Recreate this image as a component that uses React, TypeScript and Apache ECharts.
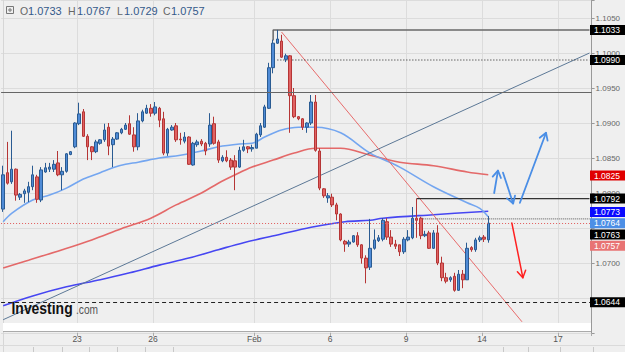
import React, { useEffect, useRef } from 'react';
import * as echarts from 'echarts';

const SLOT_COUNT = 140;
const tickSlots = [18, 36, 60, 78, 96, 114, 132];
const tickLabels = ['23', '26', 'Feb', '6', '9', '14', '17'];

// 4h candles: [open, high, low, close]
const candles: number[][] = [
  [1.0777, 1.0839, 1.0773, 1.0826], [1.0829, 1.0873, 1.0812, 1.0814], [1.0816, 1.0889, 1.0813, 1.0834],
  [1.0834, 1.0835, 1.0789, 1.0797], [1.0794, 1.0800, 1.0790, 1.0798], [1.0799, 1.0806, 1.0786, 1.0803],
  [1.0801, 1.0816, 1.0787, 1.0809], [1.0809, 1.0839, 1.0804, 1.0826], [1.0823, 1.0826, 1.0786, 1.0791],
  [1.0790, 1.0837, 1.0787, 1.0833], [1.0830, 1.0843, 1.0829, 1.0836], [1.0834, 1.0843, 1.0830, 1.0837],
  [1.0834, 1.0847, 1.0830, 1.0841], [1.0843, 1.0860, 1.0824, 1.0826], [1.0826, 1.0837, 1.0804, 1.0831],
  [1.0831, 1.0857, 1.0829, 1.0856], [1.0855, 1.0860, 1.0854, 1.0859], [1.0866, 1.0901, 1.0864, 1.0900],
  [1.0899, 1.0929, 1.0897, 1.0913], [1.0916, 1.0920, 1.0880, 1.0881], [1.0881, 1.0884, 1.0847, 1.0866],
  [1.0866, 1.0867, 1.0847, 1.0859], [1.0859, 1.0876, 1.0857, 1.0873], [1.0871, 1.0877, 1.0869, 1.0876],
  [1.0876, 1.0899, 1.0873, 1.0890], [1.0894, 1.0900, 1.0854, 1.0867], [1.0869, 1.0880, 1.0837, 1.0877],
  [1.0877, 1.0887, 1.0876, 1.0886], [1.0886, 1.0893, 1.0884, 1.0891], [1.0891, 1.0900, 1.0890, 1.0897],
  [1.0899, 1.0911, 1.0883, 1.0884], [1.0883, 1.0894, 1.0859, 1.0866], [1.0866, 1.0914, 1.0861, 1.0903],
  [1.0903, 1.0919, 1.0901, 1.0916], [1.0914, 1.0926, 1.0913, 1.0921], [1.0921, 1.0927, 1.0909, 1.0914],
  [1.0914, 1.0930, 1.0911, 1.0923], [1.0921, 1.0923, 1.0894, 1.0904], [1.0906, 1.0916, 1.0854, 1.0857],
  [1.0857, 1.0893, 1.0853, 1.0891], [1.0890, 1.0897, 1.0889, 1.0894], [1.0896, 1.0900, 1.0873, 1.0876],
  [1.0877, 1.0886, 1.0869, 1.0876], [1.0874, 1.0887, 1.0871, 1.0880], [1.0880, 1.0881, 1.0840, 1.0841],
  [1.0840, 1.0873, 1.0839, 1.0871], [1.0869, 1.0876, 1.0866, 1.0873], [1.0874, 1.0877, 1.0867, 1.0870],
  [1.0871, 1.0873, 1.0854, 1.0860], [1.0870, 1.0914, 1.0866, 1.0897], [1.0899, 1.0909, 1.0869, 1.0871],
  [1.0873, 1.0876, 1.0843, 1.0847], [1.0846, 1.0854, 1.0844, 1.0851], [1.0851, 1.0861, 1.0844, 1.0846],
  [1.0847, 1.0850, 1.0833, 1.0837], [1.0846, 1.0854, 1.0804, 1.0837], [1.0837, 1.0866, 1.0836, 1.0861],
  [1.0861, 1.0876, 1.0859, 1.0866], [1.0866, 1.0867, 1.0857, 1.0863], [1.0863, 1.0869, 1.0859, 1.0865],
  [1.0864, 1.0886, 1.0864, 1.0884], [1.0883, 1.0900, 1.0880, 1.0896], [1.0894, 1.0926, 1.0893, 1.0923],
  [1.0921, 1.0986, 1.0920, 1.0979], [1.0979, 1.1019, 1.0971, 1.1014], [1.1014, 1.1033, 1.1013, 1.1020],
  [1.1017, 1.1026, 1.0993, 1.0994], [1.0991, 1.0999, 1.0987, 1.0996], [1.0996, 1.0997, 1.0886, 1.0939],
  [1.0939, 1.0950, 1.0907, 1.0909], [1.0909, 1.0910, 1.0904, 1.0906], [1.0906, 1.0907, 1.0890, 1.0894],
  [1.0894, 1.0901, 1.0886, 1.0900], [1.0900, 1.0940, 1.0897, 1.0930], [1.0930, 1.0940, 1.0859, 1.0861],
  [1.0860, 1.0864, 1.0804, 1.0807], [1.0806, 1.0807, 1.0793, 1.0796], [1.0793, 1.0800, 1.0786, 1.0796],
  [1.0794, 1.0799, 1.0780, 1.0783], [1.0783, 1.0786, 1.0761, 1.0770], [1.0770, 1.0771, 1.0731, 1.0733],
  [1.0731, 1.0733, 1.0716, 1.0727], [1.0727, 1.0733, 1.0723, 1.0730], [1.0730, 1.0740, 1.0729, 1.0739],
  [1.0739, 1.0744, 1.0723, 1.0726], [1.0726, 1.0727, 1.0699, 1.0707], [1.0707, 1.0711, 1.0671, 1.0693],
  [1.0694, 1.0763, 1.0690, 1.0721], [1.0721, 1.0748, 1.0719, 1.0733], [1.0732, 1.0740, 1.0730, 1.0736],
  [1.0734, 1.0764, 1.0731, 1.0761], [1.0759, 1.0764, 1.0733, 1.0737], [1.0737, 1.0747, 1.0723, 1.0727],
  [1.0727, 1.0733, 1.0720, 1.0724], [1.0726, 1.0726, 1.0710, 1.0716], [1.0716, 1.0737, 1.0713, 1.0734],
  [1.0733, 1.0747, 1.0731, 1.0737], [1.0736, 1.0780, 1.0734, 1.0764], [1.0764, 1.0792, 1.0736, 1.0761],
  [1.0764, 1.0766, 1.0734, 1.0739], [1.0739, 1.0746, 1.0737, 1.0741], [1.0743, 1.0746, 1.0720, 1.0721],
  [1.0721, 1.0747, 1.0720, 1.0743], [1.0743, 1.0754, 1.0697, 1.0700], [1.0700, 1.0709, 1.0674, 1.0679],
  [1.0679, 1.0686, 1.0671, 1.0674], [1.0676, 1.0681, 1.0673, 1.0679], [1.0681, 1.0686, 1.0659, 1.0661],
  [1.0661, 1.0690, 1.0660, 1.0684], [1.0684, 1.0690, 1.0664, 1.0676], [1.0676, 1.0729, 1.0676, 1.0721],
  [1.0722, 1.0724, 1.0716, 1.0719], [1.0719, 1.0736, 1.0716, 1.0733], [1.0733, 1.0739, 1.0730, 1.0736],
  [1.0737, 1.0740, 1.0730, 1.0734], [1.0733, 1.0767, 1.0729, 1.0757],
];

// moving averages (slot index, value)
const maFastIdx = [0, 2, 7, 11, 15, 19, 23, 26, 29, 32, 37, 42, 47, 51, 56, 59, 62, 66, 70, 74, 80, 87, 94, 102, 110, 113, 115];
const maFastVal = [1.0759, 1.0771, 1.0790, 1.0797, 1.0807, 1.0820, 1.0829, 1.0836, 1.0841, 1.0844, 1.0850, 1.0854, 1.0860, 1.0866, 1.0870, 1.0871, 1.0880, 1.0890, 1.0894, 1.0894, 1.0886, 1.0857, 1.0837, 1.0809, 1.0786, 1.0778, 1.0766];
const maMidIdx = [0, 6, 14, 21, 28, 35, 41, 47, 51, 55, 59, 64, 69, 74, 80, 87, 94, 102, 110, 115];
const maMidVal = [1.0693, 1.0704, 1.0719, 1.0733, 1.0749, 1.0764, 1.0783, 1.0800, 1.0814, 1.0826, 1.0837, 1.0847, 1.0857, 1.0864, 1.0864, 1.0854, 1.0844, 1.0839, 1.0830, 1.0826];
const maSlowIdx = [0, 7, 15, 23, 30, 37, 44, 51, 57, 65, 73, 81, 87, 90, 102, 115];
const maSlowVal = [1.0639, 1.0653, 1.0666, 1.0676, 1.0686, 1.0697, 1.0707, 1.0719, 1.0729, 1.0740, 1.0751, 1.0759, 1.0761, 1.0764, 1.0769, 1.0774];

// drawings (slot index, price)
const trendGray = [[0, 1.0619], [139, 1.1000]];
const trendRed = [[66, 1.1030], [123, 1.0616]];
const highBracket = [[64, 1.1018], [64, 1.1033], [139, 1.1033]];
const dottedHigh = [[65, 1.0990], [139, 1.0990]];
const resistLine = [[98, 1.0792], [139, 1.0792]];
const dottedRes = [[99, 1.0763], [139, 1.0763]];
const fullLevel = 1.0944;
const supportLevel = 1.0644;
const lastPrice = 1.0757;

const labelValues = [1.1033, 1.0990, 1.0825, 1.0792, 1.0773, 1.0764, 1.0763, 1.0757, 1.0644];
const labelColors = ['#000000', '#000000', '#e00000', '#000000', '#0a0aff', '#4d8fe6', '#000000', '#e87373', '#000000'];
// axis ticks fully hidden behind the price boxes in the reference
const hiddenTicks = ['1.0750', '1.0650'];

const blueArrows = [
  [[116.4, 1.0800], [117.3, 1.0832]],
  [[118.5, 1.0829], [120.9, 1.0785]],
  [[122.5, 1.0786], [128.7, 1.0886]],
];
const redArrows = [[[120.6, 1.0757], [123.2, 1.0679]]];

const FONT = 'Liberation Sans, Arial, sans-serif';

export default function App() {
  const ref = useRef<HTMLDivElement>(null);

  useEffect(() => {
    const el = ref.current!;
    const chart = echarts.init(el, null, { renderer: 'svg', width: 625, height: 352 });

    const categories = Array.from({ length: SLOT_COUNT }, (_, i) => 's' + i);
    const tickFn = (index: number) => tickSlots.indexOf(index) >= 0;
    const zip = (a: number[], b: number[]) => a.map((x, i) => [x, b[i]]);
    const candleData = candles.map(([o, h, l, c]) => [o, c, l, h]);

    const option: any = {
      animation: false,
      backgroundColor: '#efefef',
      grid: { left: 1.08, right: 33.4, top: 0.5, bottom: 19, containLabel: false, outerBoundsMode: 'none' },
      xAxis: {
        type: 'category',
        data: categories,
        boundaryGap: true,
        axisLine: { show: false },
        axisTick: { show: true, interval: tickFn, length: 3, lineStyle: { color: '#aaaaaa' } },
        axisLabel: {
          interval: tickFn,
          formatter: (v: string) => {
            const k = tickSlots.indexOf(parseInt(v.slice(1), 10));
            return k >= 0 ? tickLabels[k] : '';
          },
          fontSize: 8.5,
          color: '#555555',
          margin: 1,
          fontFamily: FONT,
          padding: [0, 4, 0, 0],
        },
        splitLine: { show: true, interval: tickFn, lineStyle: { color: '#dcdcdc', width: 1 } },
      },
      yAxis: {
        type: 'value',
        position: 'right',
        min: 1.06,
        max: 1.1075,
        interval: 0.005,
        axisLine: { show: true, lineStyle: { color: '#999999' } },
        axisTick: { show: true, length: 3, lineStyle: { color: '#999999' } },
        axisLabel: {
          formatter: (v: number) => {
            const k = Math.round(v / 0.005);
            if (Math.abs(v - k * 0.005) > 1e-6 || v < 1.0625) return '';
            const s = v.toFixed(4);
            return hiddenTicks.indexOf(s) >= 0 ? '' : s;
          },
          fontSize: 8,
          color: '#666666',
          margin: 4,
          fontFamily: FONT,
        },
        splitLine: { show: true, lineStyle: { color: '#dcdcdc', width: 1 } },
      },
      series: [
        {
          type: 'line', data: zip(maSlowIdx, maSlowVal), smooth: 0.35, symbol: 'none', silent: true,
          lineStyle: { color: '#4646f2', width: 1.6 }, z: 2,
        },
        {
          type: 'line', data: zip(maMidIdx, maMidVal), smooth: 0.35, symbol: 'none', silent: true,
          lineStyle: { color: '#e25a5a', width: 1.6, opacity: 0.9 }, z: 2,
        },
        {
          type: 'line', data: zip(maFastIdx, maFastVal), smooth: 0.35, symbol: 'none', silent: true,
          lineStyle: { color: '#74a6f0', width: 1.6 }, z: 2,
        },
        { type: 'line', data: trendGray, symbol: 'none', silent: true, lineStyle: { color: '#5c7896', width: 1 }, z: 2 },
        { type: 'line', data: trendRed, symbol: 'none', silent: true, lineStyle: { color: '#e86b6b', width: 1 }, z: 2 },
        { type: 'line', data: highBracket, symbol: 'none', silent: true, lineStyle: { color: '#6a6a6a', width: 1.5 }, z: 2 },
        { type: 'line', data: dottedHigh, symbol: 'none', silent: true, lineStyle: { color: '#222222', width: 1, type: [1, 2] }, z: 2 },
        { type: 'line', data: resistLine, symbol: 'none', silent: true, lineStyle: { color: '#333333', width: 1.2 }, z: 2 },
        { type: 'line', data: dottedRes, symbol: 'none', silent: true, lineStyle: { color: '#555555', width: 1, type: [1, 1] }, z: 2 },
        {
          type: 'candlestick',
          data: candleData,
          barWidth: 3,
          silent: true,
          itemStyle: {
            color: '#4f8bd6', color0: '#e06262',
            borderColor: '#2a5b92', borderColor0: '#b53535', borderWidth: 1,
          },
          markLine: {
            silent: true,
            precision: 4,
            symbol: ['none', 'none'],
            label: { show: false },
            data: [
              { yAxis: fullLevel, lineStyle: { color: '#666666', width: 1.2, type: 'solid' } },
              { yAxis: supportLevel, lineStyle: { color: '#222222', width: 1, type: [4, 3] } },
              { yAxis: lastPrice, lineStyle: { color: '#e05a5a', width: 1, type: [1, 2] } },
            ],
          },
          z: 3,
        },
      ],
    };

    chart.setOption(option);

    const p0 = chart.convertToPixel({ gridIndex: 0 }, [0, 1.08]) as number[];
    const p1 = chart.convertToPixel({ gridIndex: 0 }, [1, 1.08]) as number[];
    const step = p1[0] - p0[0];
    const toPx = (i: number, v: number) => [
      p0[0] + i * step,
      chart.convertToPixel({ yAxisIndex: 0 }, v) as number,
    ];

    const graphics: any[] = [];

    // white strip under plot + axis line
    graphics.push({ type: 'rect', shape: { x: 3, y: 323, width: 588, height: 8 }, style: { fill: '#ffffff' }, z: 100 });
    graphics.push({ type: 'line', shape: { x1: 3, y1: 331.5, x2: 591, y2: 331.5 }, style: { stroke: '#aaaaaa', lineWidth: 1 }, z: 101 });
    graphics.push({ type: 'line', shape: { x1: 3.5, y1: 0, x2: 3.5, y2: 352 }, style: { stroke: '#d6d6d6', lineWidth: 1 }, z: 1 });
    graphics.push({ type: 'line', shape: { x1: 0, y1: 345.5, x2: 625, y2: 345.5 }, style: { stroke: '#dadada', lineWidth: 1 }, z: 101 });
    [33, 62, 89, 117, 145, 173, 503, 528, 560, 593].forEach((x) => {
      graphics.push({ type: 'line', shape: { x1: x + 0.5, y1: 347, x2: x + 0.5, y2: 352 }, style: { stroke: '#c8c8c8', lineWidth: 1 }, z: 101 });
    });

    // arrows
    const arrow = (pts: number[][], color: string, w: number) => {
      const a = toPx(pts[0][0], pts[0][1]);
      const b = toPx(pts[1][0], pts[1][1]);
      const ang = Math.atan2(b[1] - a[1], b[0] - a[0]);
      const L = 8, sp = 0.55;
      const h1 = [b[0] - L * Math.cos(ang - sp), b[1] - L * Math.sin(ang - sp)];
      const h2 = [b[0] - L * Math.cos(ang + sp), b[1] - L * Math.sin(ang + sp)];
      graphics.push({ type: 'polyline', shape: { points: [a, b] }, style: { stroke: color, lineWidth: w, fill: null, lineCap: 'round' }, z: 60 });
      graphics.push({ type: 'polyline', shape: { points: [h1, b, h2] }, style: { stroke: color, lineWidth: w, fill: null, lineCap: 'round', lineJoin: 'round' }, z: 60 });
    };
    blueArrows.forEach((p) => arrow(p, '#4a8ee6', 1.8));
    redArrows.forEach((p) => arrow(p, '#ff2020', 1.5));

    // price labels on the right axis, pushed apart when they overlap
    let prevY = -100;
    labelValues.forEach((v, i) => {
      let y = chart.convertToPixel({ yAxisIndex: 0 }, v) as number;
      if (y < prevY + 11.3) y = prevY + 11.3;
      prevY = y;
      graphics.push({ type: 'rect', shape: { x: 590, y: y - 5, width: 35, height: 10 }, style: { fill: labelColors[i] }, z: 110 });
      graphics.push({
        type: 'text', x: 594, y, z: 111,
        style: { text: v.toFixed(4), fill: '#ffffff', fontSize: 8.5, fontFamily: FONT, verticalAlign: 'middle', align: 'left' },
      });
    });

    // OHLC legend
    const last = candles[candles.length - 1];
    const legendItems = [
      { k: 'O', v: last[0], x: 20, vx: 28 },
      { k: 'H', v: last[1], x: 68, vx: 77 },
      { k: 'L', v: last[2], x: 117, vx: 124 },
      { k: 'C', v: last[3], x: 163, vx: 171 },
    ];
    graphics.push({ type: 'rect', shape: { x: 6.5, y: 6.5, width: 7, height: 7 }, style: { fill: 'none', stroke: '#777777', lineWidth: 1 }, z: 120 });
    graphics.push({ type: 'line', shape: { x1: 8, y1: 10, x2: 12, y2: 10 }, style: { stroke: '#777777', lineWidth: 1 }, z: 120 });
    graphics.push({ type: 'line', shape: { x1: 10, y1: 8, x2: 10, y2: 12 }, style: { stroke: '#777777', lineWidth: 1 }, z: 120 });
    legendItems.forEach((it) => {
      graphics.push({ type: 'text', x: it.x, y: 10.5, z: 120, style: { text: it.k, fill: '#666666', fontSize: 10.5, fontFamily: FONT, verticalAlign: 'middle' } });
      graphics.push({ type: 'text', x: it.vx, y: 10.5, z: 120, style: { text: it.v.toFixed(4), fill: '#34598a', fontSize: 11, fontFamily: FONT, verticalAlign: 'middle' } });
    });

    // logo
    graphics.push({
      type: 'text', x: 11.5, y: 308, scaleX: 0.82, z: 120,
      style: { text: 'Investing', fill: '#111111', fontSize: 17, fontWeight: 'bold', fontFamily: FONT, verticalAlign: 'middle' },
    });
    graphics.push({
      type: 'text', x: 76, y: 310, scaleX: 0.85, z: 120,
      style: { text: '.com', fill: '#555555', fontSize: 12, fontFamily: FONT, verticalAlign: 'middle' },
    });

    chart.setOption({ graphic: graphics });

    return () => chart.dispose();
  }, []);

  return <div ref={ref} style={{ position: 'absolute', left: 0, top: 0, width: 625, height: 352 }} />;
}
